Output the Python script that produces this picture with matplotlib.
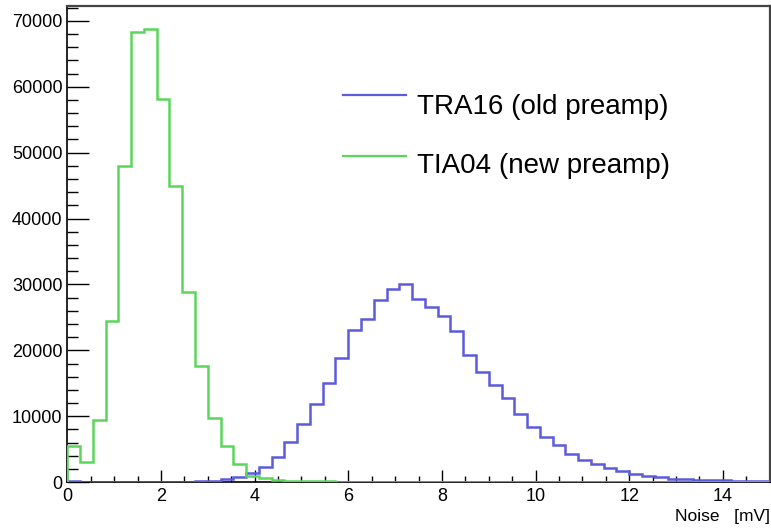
import numpy as np
import matplotlib
matplotlib.use("Agg")
import matplotlib.pyplot as plt
from matplotlib.lines import Line2D

plt.rcParams['font.family'] = ['Liberation Sans', 'DejaVu Sans']

# Noise histograms, 55 bins from 0 to 15 mV
x_min, x_max, n_bins = 0.0, 15.0, 55

tia04_counts = [
    5500, 3000, 9500, 24400, 48000, 68300, 68800, 58200, 45000, 28800,
    17700, 9800, 5500, 2700, 1000, 700, 400, 200, 200, 200,
    200, 40, 40, 40, 40, 30, 30, 30, 30, 30,
    30, 30, 30, 30, 30, 30, 30, 30, 30, 30,
    30, 30, 30, 30, 30, 30, 30, 30, 30, 0,
    0, 0, 0, 0, 0,
]
tra16_counts = [
    150, 0, 0, 0, 0, 0, 0, 0, 0, 0,
    200, 200, 450, 850, 1450, 2350, 3850, 6100, 8900, 11800,
    15000, 18900, 23100, 24800, 27600, 29300, 30100, 27800, 26600, 25200,
    22900, 19300, 16700, 14700, 12800, 10300, 8300, 6800, 5700, 4350,
    3350, 2750, 2200, 1700, 1250, 1000, 750, 500, 500, 350,
    350, 350, 150, 150, 150,
]
series_labels = ["TRA16 (old preamp)", "TIA04 (new preamp)"]
series_colors = ["#5b5bdc", "#5ad65a"]

edges = np.linspace(x_min, x_max, n_bins + 1)

fig = plt.figure(figsize=(7.71, 5.28), dpi=100)
ax = fig.add_axes([67.3 / 771, (528 - 482.2) / 528,
                   (769.7 - 67.3) / 771, (482.2 - 6) / 528])

ax.stairs(tra16_counts, edges, color=series_colors[0], lw=1.8, zorder=3)
ax.stairs(tia04_counts, edges, color=series_colors[1], lw=1.8, zorder=3)

ax.set_xlim(x_min, x_max)
ax.set_ylim(0, 1.05 * max(tia04_counts))

ax.set_xticks(np.arange(0, 15, 2))
ax.set_xticks(np.arange(0, 15.01, 0.5), minor=True)
ax.set_yticks(np.arange(0, 70001, 10000))
ax.set_yticks(np.arange(0, 72001, 2000), minor=True)
ax.tick_params(axis='both', which='both', direction='in', labelsize=13,
               color='black', width=1.0)
ax.tick_params(axis='x', which='major', length=8.6, pad=4)
ax.tick_params(axis='x', which='minor', length=4)
ax.tick_params(axis='y', which='major', length=16, pad=3.5)
ax.tick_params(axis='y', which='minor', length=8)

for side in ['left', 'bottom']:
    ax.spines[side].set_color('black')
    ax.spines[side].set_linewidth(1.2)
for side in ['top', 'right']:
    ax.spines[side].set_color('#444444')
    ax.spines[side].set_linewidth(1.6)

fig.text(770 / 771, 1 - 521.5 / 528, "Noise   [mV]", ha='right',
         va='baseline', fontsize=12.5)

# legend drawn by hand: line sits near the top of each entry
rows = [(95, 114), (156, 173)]
for (line_y, base_y), label, color in zip(rows, series_labels, series_colors):
    fig.add_artist(Line2D([343 / 771, 406 / 771],
                          [1 - line_y / 528, 1 - line_y / 528],
                          color=color, lw=1.6))
    fig.text(417 / 771, 1 - base_y / 528, label, fontsize=20,
             va='baseline', ha='left')

fig.savefig("out.png", dpi=100)
